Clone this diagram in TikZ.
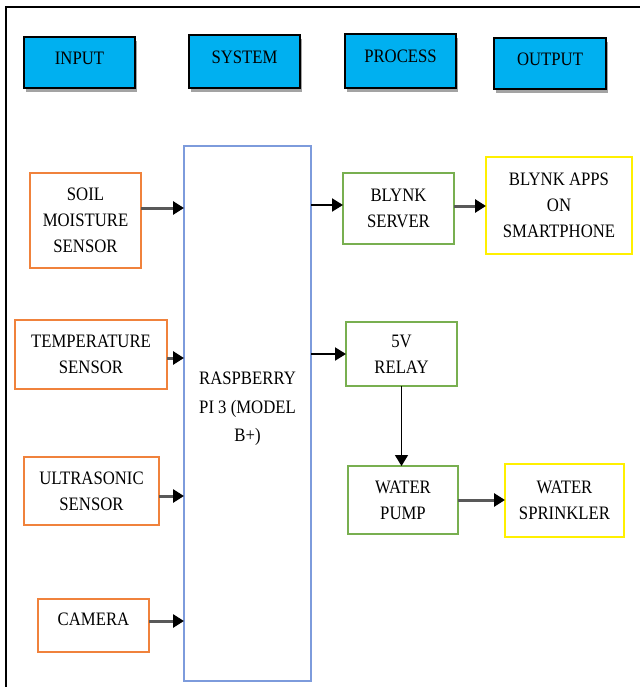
\documentclass[tikz,border=0pt]{standalone}
\usepackage{fontspec}
\setmainfont[FakeStretch=0.88]{Liberation Serif}
\usetikzlibrary{arrows.meta,shadows}
\definecolor{hdrblue}{RGB}{0,176,240}
\definecolor{inorange}{RGB}{240,130,60}
\definecolor{prgreen}{RGB}{120,175,80}
\definecolor{outyellow}{RGB}{255,240,0}
\definecolor{rpiblue}{RGB}{125,155,220}
\begin{document}
\begin{tikzpicture}[x=1pt,y=-1pt,
  every node/.style={font=\fontsize{19}{26}\selectfont, align=center, inner sep=0pt, outer sep=0pt},
  hdr/.style={draw=black, line width=1.3pt, fill=hdrblue, text depth=9pt,
    drop shadow={shadow xshift=1.5pt, shadow yshift=-4pt, fill=black!45, opacity=0.8}},
  inbox/.style={draw=inorange, line width=1.5pt, fill=white},
  prbox/.style={draw=prgreen, line width=1.5pt, fill=white},
  outbox/.style={draw=outyellow, line width=1.8pt, fill=white},
  rpibox/.style={draw=rpiblue, line width=1.3pt, fill=white},
  arrL/.style={draw=black!65, line width=3pt, -{Triangle[length=11pt,width=13pt,color=black]}},
  arrR/.style={draw=black, line width=2pt, -{Triangle[length=11pt,width=13pt,color=black]}}
]
\useasboundingbox (0,0) rectangle (639,687);
% frame
\draw[line width=2pt] (6,690) -- (6,7) -- (640,7);

% header boxes
\node[hdr, minimum width=111pt, minimum height=51pt] (hin)  at (79.5,62.5) {INPUT};
\node[hdr, minimum width=111pt, minimum height=53pt] (hsys) at (244.5,61.5) {SYSTEM};
\node[hdr, minimum width=111pt, minimum height=54pt] (hpro) at (400.5,61) {PROCESS};
\node[hdr, minimum width=112pt, minimum height=51pt] (hout) at (550,63.5) {OUTPUT};

% raspberry pi
\node[rpibox, minimum width=127pt, minimum height=535pt] (rpi) at (247.5,413.5) {};
\node[font=\fontsize{19}{28.5}\selectfont] (rpit) at (247.5,409) {RASPBERRY\\PI 3 (MODEL\\B+)};

% inputs
\node[inbox, minimum width=111pt, minimum height=95pt] (soil) at (85.5,220.5) {SOIL\\MOISTURE\\SENSOR};
\node[inbox, minimum width=152pt, minimum height=69pt] (temp) at (91,354.5) {TEMPERATURE\\SENSOR};
\node[inbox, minimum width=135pt, minimum height=68pt] (ultra) at (91.5,491) {ULTRASONIC\\SENSOR};
\node[inbox, minimum width=111pt, minimum height=53pt, text depth=12pt] (cam) at (93.5,625.5) {CAMERA};

% process
\node[prbox, minimum width=111pt, minimum height=71pt] (server) at (398.5,208.5) {BLYNK\\SERVER};
\node[prbox, minimum width=111pt, minimum height=64pt] (relay) at (401.5,354) {5V\\RELAY};
\node[prbox, minimum width=110pt, minimum height=68pt] (pump) at (403,500) {WATER\\PUMP};

% outputs
\node[outbox, minimum width=146pt, minimum height=97pt] (apps) at (559,205.5) {BLYNK APPS\\ON\\SMARTPHONE};
\node[outbox, minimum width=119pt, minimum height=73pt] (sprink) at (564.5,500.5) {WATER\\SPRINKLER};

% connectors
\draw[arrL] ([yshift=12.5pt]soil.east) -- ([yshift=12.5pt]soil.east -| rpi.west);
\draw[arrL] ([yshift=-3.5pt]temp.east) -- ([yshift=-3.5pt]temp.east -| rpi.west);
\draw[arrL] ([yshift=-5pt]ultra.east) -- ([yshift=-5pt]ultra.east -| rpi.west);
\draw[arrL] ([yshift=4.5pt]cam.east) -- ([yshift=4.5pt]cam.east -| rpi.west);

\draw[arrR] ([yshift=3.5pt]server.west -| rpi.east) -- ([yshift=3.5pt]server.west);
\draw[arrR] (relay.west -| rpi.east) -- (relay.west);
\draw[arrL] ([yshift=2.5pt]server.east) -- ([yshift=2.5pt]server.east -| apps.west);
\draw[arrR, line width=1.5pt] (relay.south) -- (relay.south |- pump.north);
\draw[arrL] (pump.east) -- (pump.east -| sprink.west);
\end{tikzpicture}
\end{document}
